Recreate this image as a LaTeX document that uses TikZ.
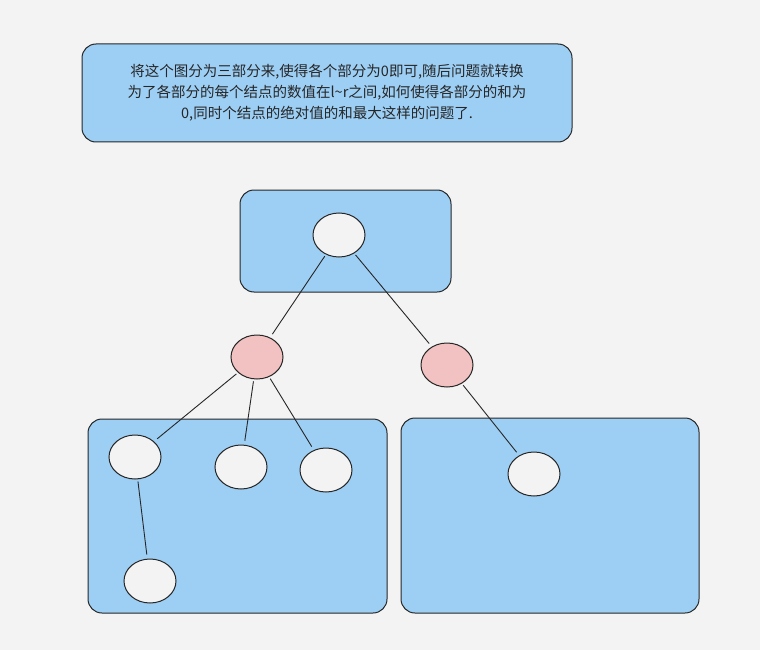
\documentclass[tikz,border=0pt]{standalone}
\usepackage{fontspec}
\setmainfont{Noto Sans CJK SC}
\usetikzlibrary{shapes.geometric}
\begin{document}
\begin{tikzpicture}[x=1pt,y=-1pt,
 box/.style={draw=black!85,line width=1pt,fill=boxblue,rounded corners=14pt},
 nd/.style={draw=black!85,line width=1pt,fill=bgc,ellipse,minimum width=52pt,minimum height=44pt,inner sep=0pt},
 pk/.style={nd,fill=pinkc},
 ln/.style={draw=black!85,line width=0.9pt,shorten <=2pt,shorten >=4pt}]
\definecolor{bgc}{HTML}{F3F3F3}
\definecolor{boxblue}{HTML}{9DCFF5}
\definecolor{pinkc}{HTML}{F2C1C1}
\fill[bgc] (0,0) rectangle (760,650);
\useasboundingbox (0,0) rectangle (760,650);
\draw[box] (82,44) rectangle (572,142);
\node[align=center,font=\fontsize{14.5pt}{21pt}\selectfont,text=black!85] (txt) at (327,93)
 {将这个图分为三部分来,使得各个部分为0即可,随后问题就转换\\为了各部分的每个结点的数值在l\textasciitilde r之间,如何使得各部分的和为\\0,同时个结点的绝对值的和最大这样的问题了.};
\draw[box] (240,190) rectangle (451,292);
\draw[box] (88,419) rectangle (387,613);
\draw[box] (401,418) rectangle (699,613);
\node[nd] (t) at (339,235) {};
\node[pk] (p1) at (257,357) {};
\node[pk] (p2) at (447,365) {};
\node[nd] (a) at (135,457) {};
\node[nd] (b) at (241,467) {};
\node[nd] (c) at (326,470) {};
\node[nd] (d) at (534,474) {};
\node[nd] (e) at (150,581) {};
\draw[ln] (t) -- (p1);
\draw[ln] (t) -- (p2);
\draw[ln] (p1) -- (a);
\draw[ln] (p1) -- (b);
\draw[ln] (p1) -- (c);
\draw[ln] (p2) -- (d);
\draw[ln] (a) -- (e);
\end{tikzpicture}
\end{document}
